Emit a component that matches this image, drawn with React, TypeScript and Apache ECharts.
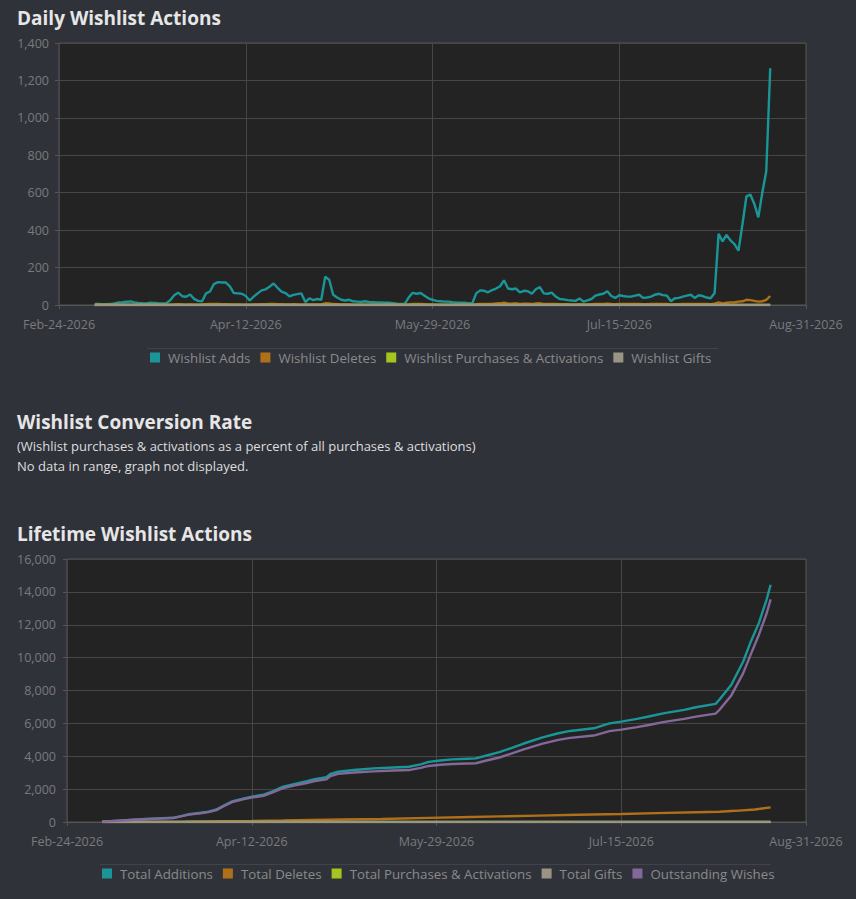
import React, { useEffect, useRef } from "react";
import * as echarts from "echarts";

// ---------- data ----------
const tickLabels = ["Feb-24-2026", "Apr-12-2026", "May-29-2026", "Jul-15-2026", "Aug-31-2026"];
const TICK_STEP = 47; // days between date ticks
const LAST_DAY = 188;

const dailyLegend = ["Wishlist Adds", "Wishlist Deletes", "Wishlist Purchases & Activations", "Wishlist Gifts"];
const lifetimeLegend = ["Total Additions", "Total Deletes", "Total Purchases & Activations", "Total Gifts", "Outstanding Wishes"];

// daily values, first value is day 9 (Mar-05-2026)
const dailyStartDay = 9;
const dailyAdds = [
  5, 5, 4, 4, 5, 8, 14, 15, 17, 19, 14, 11, 9, 8, 12, 11, 9, 8, 10,
  25, 52, 66, 47, 44, 56, 33, 22, 20, 62, 72, 112, 122, 120, 120, 100, 64, 62, 60, 48,
  24, 45, 62, 78, 84, 98, 115, 92, 72, 64, 46, 54, 58, 62, 16, 36, 26, 32, 28,
  151, 135, 55, 40, 28, 24, 28, 20, 18, 16, 20, 16, 15, 13, 14, 12, 12, 10, 7, 5, 6,
  40, 65, 60, 64, 50, 36, 28, 22, 20, 18, 18, 15, 13, 12, 12, 10, 8,
  62, 78, 76, 68, 80, 88, 100, 132, 88, 84, 88, 68, 76, 74, 60, 84, 96, 62, 60, 66, 45, 32, 30, 26, 24, 22,
  35, 18, 25, 32, 50, 56, 60, 74, 48, 38, 52, 48, 45, 45, 50, 55, 38, 40, 45, 55, 60, 53, 50, 20, 36, 38, 45, 50, 55, 38, 52, 48, 40, 36, 64,
  380, 340, 375, 345, 325, 290, 430, 580, 590, 540, 468, 600, 715, 1265,
];
const dailyDeletes = [
  0, 1, 0, 1, 1, 0, 2, 1, 1, 2, 1, 0, 1, 1, 2, 1, 1, 0, 1,
  2, 3, 4, 3, 2, 3, 2, 2, 3, 4, 5, 6, 5, 4, 4, 3, 3, 3, 2, 2,
  2, 3, 3, 4, 4, 5, 5, 4, 4, 3, 3, 4, 3, 2, 3, 3, 3, 3, 3,
  9, 8, 5, 4, 3, 3, 3, 2, 2, 2, 2, 2, 2, 2, 2, 2, 1, 1, 1, 1, 1,
  3, 5, 5, 5, 4, 3, 3, 2, 2, 2, 2, 2, 2, 2, 1, 1, 1,
  4, 6, 6, 5, 6, 8, 9, 12, 8, 7, 9, 6, 7, 7, 5, 8, 9, 6, 6, 6, 5, 4, 4, 4, 3, 3,
  4, 3, 3, 4, 5, 5, 6, 7, 5, 4, 5, 5, 5, 5, 5, 6, 4, 4, 5, 6, 6, 6, 5, 3, 4, 4, 5, 5, 6, 5, 6, 5, 5, 4, 7,
  14, 9, 12, 14, 15, 18, 20, 28, 26, 22, 18, 20, 27, 48,
];
const dailyPurchases: [number, number][] = [[9, 0], [179, 0]];
const dailyGifts: [number, number][] = [[9, 0], [179, 0]];

// lifetime (cumulative) values read at these days
const lifetimeDays = [
  9, 14, 19, 23, 27, 29, 31, 34, 36, 38, 40, 42, 45, 47, 50, 52, 55, 58, 61, 63,
  66, 67, 69, 73, 78, 83, 87, 90, 92, 95, 98, 102, 104, 107, 110, 113, 116, 121, 125, 128,
  134, 138, 141, 145, 148, 152, 157, 160, 165, 166, 169, 172, 174, 176, 178, 179,
];
const totalAdditions = [
  20, 100, 170, 215, 255, 360, 470, 560, 630, 760, 1020, 1250, 1440, 1545, 1660, 1840, 2150, 2320, 2480, 2610,
  2720, 2920, 3060, 3160, 3260, 3320, 3360, 3510, 3660, 3740, 3810, 3850, 3870, 4060, 4250, 4500, 4760, 5150, 5400, 5540,
  5700, 6000, 6110, 6270, 6420, 6620, 6820, 6980, 7190, 7450, 8350, 9750, 11000, 12100, 13550, 14430,
];
const outstandingWishes = [
  20, 95, 165, 205, 245, 345, 450, 535, 600, 725, 980, 1205, 1390, 1490, 1595, 1770, 2065, 2225, 2370, 2495,
  2595, 2790, 2925, 3015, 3080, 3130, 3160, 3290, 3410, 3480, 3530, 3560, 3575, 3755, 3925, 4155, 4400, 4770, 5000, 5120,
  5260, 5530, 5620, 5770, 5900, 6090, 6270, 6410, 6590, 6830, 7700, 9040, 10230, 11380, 12700, 13540,
];
const deleteDays = [9, 20, 30, 40, 47, 55, 62, 70, 80, 92, 100, 110, 120, 130, 141, 150, 160, 166, 170, 175, 179];
const totalDeletes = [0, 10, 25, 45, 60, 90, 120, 150, 185, 250, 290, 340, 390, 440, 490, 540, 590, 620, 680, 760, 890];
const totalPurchases: [number, number][] = [[9, 0], [179, 0]];
const totalGifts: [number, number][] = [[9, 0], [179, 0]];

// ---------- styling ----------
const FONT = '"Open Sans", "DejaVu Sans", sans-serif';
const PAGE_BG = "#30323a";
const PLOT_BG = "#232323";
const GRID_LINE = "#464646";
const BORDER = "#555555";
const AXIS_TEXT = "#7a7a7a";
const LEGEND_TEXT = "#8a8a8a";
const C_TEAL = "#1a9698";
const C_ORANGE = "#b0701a";
const C_LIME = "#a6c41e";
const C_GREY = "#9a9484";
const C_PURPLE = "#84689a";

const fromStart = (start: number, values: number[]) => values.map((v, i) => [start + i, v]);
const zipDays = (days: number[], values: number[]) => days.map((d, i) => [d, values[i]]);

function xAxisFor(gridIndex: number) {
  return {
    type: "value",
    gridIndex,
    min: 0,
    max: LAST_DAY,
    interval: TICK_STEP,
    axisLine: { show: true, lineStyle: { color: BORDER } },
    axisTick: { show: true, length: 4, lineStyle: { color: BORDER } },
    axisLabel: {
      color: AXIS_TEXT,
      fontSize: 12.5,
      fontFamily: FONT,
      margin: 13,
      formatter: (v: number) => tickLabels[Math.round(v / TICK_STEP)] ?? "",
    },
    splitLine: { show: true, lineStyle: { color: GRID_LINE, width: 1 } },
  };
}

function yAxisFor(gridIndex: number, max: number, interval: number, margin: number) {
  return {
    type: "value",
    gridIndex,
    min: 0,
    max,
    interval,
    axisLine: { show: false },
    axisTick: { show: true, length: 4, lineStyle: { color: BORDER } },
    axisLabel: { color: AXIS_TEXT, fontSize: 12.5, fontFamily: FONT, margin },
    splitLine: { show: true, lineStyle: { color: GRID_LINE, width: 1 } },
  };
}

function lineSeries(name: string, color: string, data: any[], xi: number, width = 2.4) {
  return {
    name,
    type: "line",
    xAxisIndex: xi,
    yAxisIndex: xi,
    data,
    showSymbol: false,
    symbol: "none",
    lineStyle: { color, width },
    itemStyle: { color },
    emphasis: { disabled: true },
  };
}

function titleText(text: string, y: number) {
  return {
    type: "text",
    x: 17,
    y,
    style: {
      text,
      fill: "#e6e6e6",
      font: `bold 19px ${FONT}`,
      verticalAlign: "middle",
      textVerticalAlign: "middle",
    },
  };
}

function plainText(text: string, y: number) {
  return {
    type: "text",
    x: 17,
    y,
    style: {
      text,
      fill: "#dedede",
      font: `13px ${FONT}`,
      verticalAlign: "middle",
      textVerticalAlign: "middle",
    },
  };
}

function separator(x1: number, x2: number, y: number) {
  return {
    type: "line",
    shape: { x1, y1: y, x2, y2: y },
    style: { stroke: "#40434c", lineWidth: 1 },
  };
}

export default function App() {
  const ref = useRef<HTMLDivElement>(null);

  useEffect(() => {
    document.body.style.margin = "0";
    if (!ref.current) return;
    const chart = echarts.init(ref.current, null, { renderer: "svg" });

    const legendCommon = {
      orient: "horizontal",
      icon: "rect",
      padding: 0,
      itemWidth: 10,
      itemHeight: 10,
      itemGap: 10,
      selectedMode: false,
      textStyle: { color: LEGEND_TEXT, fontSize: 13.3, fontFamily: FONT, padding: [0, 0, 0, 3] },
    };

    chart.setOption({
      animation: false,
      backgroundColor: PAGE_BG,
      textStyle: { fontFamily: FONT },
      grid: [
        { left: 59, top: 43, width: 747, height: 262, show: true, backgroundColor: PLOT_BG, borderColor: BORDER, borderWidth: 1, containLabel: false },
        { left: 67, top: 559, width: 739, height: 263, show: true, backgroundColor: PLOT_BG, borderColor: BORDER, borderWidth: 1, containLabel: false },
      ],
      xAxis: [xAxisFor(0), xAxisFor(1)],
      yAxis: [yAxisFor(0, 1400, 200, 10), yAxisFor(1, 16000, 2000, 11)],
      legend: [
        { ...legendCommon, data: dailyLegend, left: 150, top: 351 },
        { ...legendCommon, data: lifetimeLegend, left: 102, top: 867 },
      ],
      graphic: [
        titleText("Daily Wishlist Actions", 18),
        separator(147, 718, 348.5),
        titleText("Wishlist Conversion Rate", 422),
        plainText("(Wishlist purchases & activations as a percent of all purchases & activations)", 446),
        plainText("No data in range, graph not displayed.", 466),
        titleText("Lifetime Wishlist Actions", 534),
        separator(100, 771, 864.5),
      ],
      series: [
        lineSeries(dailyLegend[0], C_TEAL, fromStart(dailyStartDay, dailyAdds), 0),
        lineSeries(dailyLegend[1], C_ORANGE, fromStart(dailyStartDay, dailyDeletes), 0),
        lineSeries(dailyLegend[2], C_LIME, dailyPurchases, 0),
        lineSeries(dailyLegend[3], C_GREY, dailyGifts, 0),
        lineSeries(lifetimeLegend[0], C_TEAL, zipDays(lifetimeDays, totalAdditions), 1),
        lineSeries(lifetimeLegend[1], C_ORANGE, zipDays(deleteDays, totalDeletes), 1),
        lineSeries(lifetimeLegend[2], C_LIME, totalPurchases, 1),
        lineSeries(lifetimeLegend[3], C_GREY, totalGifts, 1),
        lineSeries(lifetimeLegend[4], C_PURPLE, zipDays(lifetimeDays, outstandingWishes), 1),
      ],
    });

    return () => chart.dispose();
  }, []);

  return (
    <div style={{ position: "fixed", left: 0, top: 0, width: 856, height: 899, background: PAGE_BG }}>
      <div ref={ref} style={{ width: 856, height: 899 }} />
    </div>
  );
}
